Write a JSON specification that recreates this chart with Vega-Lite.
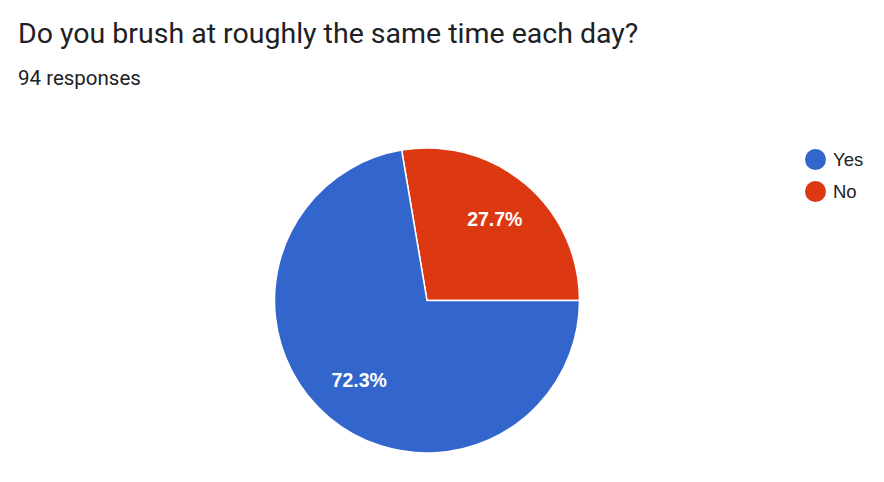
{
  "$schema": "https://vega.github.io/schema/vega-lite/v6.json",
  "autosize": "none",
  "padding": {"left": 0, "top": 148, "right": 30, "bottom": 29},
  "width": 854,
  "height": 305,
  "background": "white",
  "title": {
    "text": "Do you brush at roughly the same time each day?",
    "subtitle": "94 responses",
    "anchor": "start",
    "frame": "group",
    "dx": 18,
    "offset": 56,
    "font": "Roboto",
    "fontSize": 28.5,
    "fontWeight": "normal",
    "color": "#202124",
    "subtitleFont": "Roboto",
    "subtitleFontSize": 20.5,
    "subtitleColor": "#202124",
    "subtitlePadding": 20
  },
  "data": {
    "values": [
      {"answer": "No", "count": 26, "label": "27.7%", "order": 1},
      {"answer": "Yes", "count": 68, "label": "72.3%", "order": 2}
    ]
  },
  "encoding": {
    "theta": {
      "field": "count",
      "type": "quantitative",
      "stack": true,
      "scale": {"range": [-0.1671, 6.1161]}
    },
    "order": {"field": "order", "type": "quantitative"}
  },
  "layer": [
    {
      "mark": {"type": "arc", "stroke": "white", "strokeWidth": 1.5},
      "encoding": {
        "color": {
          "field": "answer",
          "type": "nominal",
          "scale": {"domain": ["Yes", "No"], "range": ["#3366cc", "#dc3912"]},
          "legend": {
            "title": null,
            "orient": "none",
            "legendX": 805,
            "legendY": 1,
            "symbolType": "circle",
            "symbolSize": 441,
            "symbolStrokeWidth": 0,
            "labelFont": "Liberation Sans",
            "labelFontSize": 18.5,
            "labelColor": "#222222",
            "labelOffset": 7,
            "rowPadding": 11
          }
        }
      }
    },
    {
      "mark": {
        "type": "text",
        "radius": 105,
        "align": "center",
        "baseline": "middle",
        "font": "Liberation Sans",
        "fontSize": 19.5,
        "fontWeight": "bold",
        "color": "white"
      },
      "encoding": {
        "text": {"field": "label", "type": "nominal"}
      }
    }
  ]
}
